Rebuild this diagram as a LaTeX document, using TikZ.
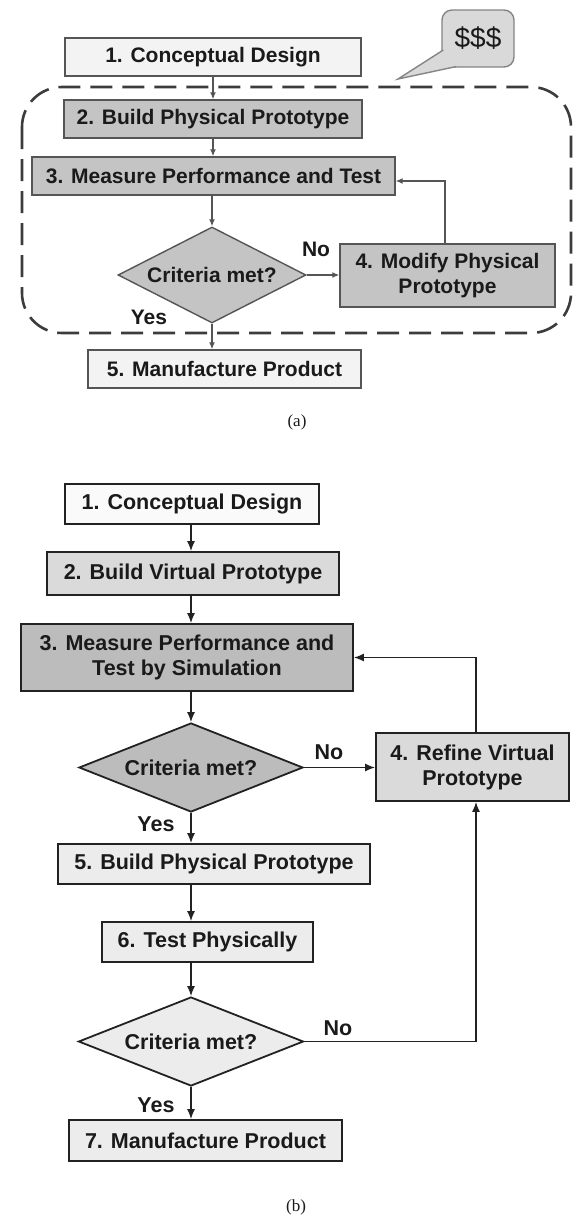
\documentclass[tikz,border=0pt]{standalone}
\usepackage{fontspec}
\setmainfont{Liberation Sans}
\newfontfamily\capfont{Liberation Serif}
\usetikzlibrary{shapes.geometric,arrows.meta,calc}
\definecolor{alight}{HTML}{F3F3F3}
\definecolor{amid}{HTML}{C4C4C4}
\definecolor{aline}{HTML}{555555}
\definecolor{bubfill}{HTML}{D9D9D9}
\definecolor{bubline}{HTML}{858585}
\definecolor{dashcol}{HTML}{3C3C3C}
\definecolor{bline}{HTML}{222222}
\definecolor{bwhite}{HTML}{FAFAFA}
\definecolor{bpale}{HTML}{ECECEC}
\definecolor{blight}{HTML}{DADADA}
\definecolor{bdark}{HTML}{BCBCBC}
\definecolor{txt}{HTML}{1A1A1A}
\tikzset{
  afont/.style={font=\fontsize{21}{25}\selectfont\bfseries, text=txt},
  bfont/.style={font=\fontsize{21.5}{25}\selectfont\bfseries, text=txt},
  abox/.style={draw=aline, line width=1.4pt, fill=#1, inner sep=0pt, align=center, afont},
  abox/.default=alight,
  bbox/.style={draw=bline, line width=1.8pt, fill=#1, inner sep=0pt, align=center, bfont},
  bbox/.default=bpale,
  adia/.style={shape=diamond, aspect=2, draw=aline, line width=1.4pt, fill=amid, inner sep=0pt, afont},
  bdia/.style={shape=diamond, aspect=2.5, draw=bline, line width=1.8pt, fill=#1, inner sep=0pt, bfont},
  aarrow/.style={draw=aline, line width=1.3pt, -{Latex[length=7pt,width=6pt]}},
  barrow/.style={draw=bline, line width=1.5pt, -{Latex[length=10pt,width=8pt]}},
  lbla/.style={afont, inner sep=0pt},
  lblb/.style={bfont, inner sep=0pt},
  caption/.style={font=\capfont\fontsize{17}{20}\selectfont, text=txt, inner sep=0pt}
}
\begin{document}
\begin{tikzpicture}[x=1pt,y=-1pt]
\useasboundingbox[fill=white] (0,0) rectangle (573,1216);

% ---------------- (a) ----------------
\coordinate (cola) at (213,0);
\draw[dashcol, line width=2.6pt, dash pattern=on 22pt off 10pt, rounded corners=40pt]
  (22,87) rectangle (571,333);

% speech bubble
\node[draw=bubline, line width=1.4pt, fill=bubfill, rounded corners=10pt,
      minimum width=72pt, minimum height=57pt, inner sep=0pt,
      font=\fontsize{28}{30}\selectfont, text=txt] (bub) at (478,38.5) {\$\$\$};
\fill[bubfill] (398,79) -- (443.5,50) -- (452,50) -- (458,60) -- (456,66.2) -- cycle;
\draw[bubline, line width=1.4pt] (443.3,50) -- (398,79) -- (456,66.6);

\node[abox, minimum width=296pt, minimum height=38pt] (a1) at (213,57) {1. Conceptual Design};
\node[abox=amid, minimum width=298pt, minimum height=38pt] (a2) at (213,119) {2. Build Physical Prototype};
\node[abox=amid, minimum width=363pt, minimum height=38pt] (a3) at (213.5,176) {3. Measure Performance and Test};
\node[adia, minimum width=188pt, minimum height=96pt] (ad) at (212,275) {Criteria met?};
\node[abox=amid, minimum width=215pt, minimum height=63pt] (a4) at (447.5,275.5) {4. Modify Physical\\Prototype};
\node[abox, minimum width=273pt, minimum height=38pt] (a5) at (224.5,369) {5. Manufacture Product};

\draw[aarrow] (a1.south -| cola) -- (a2.north -| cola);
\draw[aarrow] (a2.south -| cola) -- (a3.north -| cola);
\draw[aarrow] (a3.south -| ad.north) -- (ad.north);
\draw[aarrow] (ad.east) -- (ad.east -| a4.west);
\coordinate (loopa) at (445,0);
\draw[aarrow] (a4.north -| loopa) |- ($(a3.east)+(0,5)$);
\draw[aarrow] (ad.south) -- (ad.south |- a5.north);

\node[lbla] (ano) at (316,249) {No};
\node[lbla] (ayes) at (149,317) {Yes};
\node[caption] (capa) at (297,422) {(a)};

% ---------------- (b) ----------------
\coordinate (colb) at (191,0);
\coordinate (loopb) at (476,0);
\node[bbox=bwhite, minimum width=254pt, minimum height=40pt] (b1) at (192,504) {1. Conceptual Design};
\node[bbox=blight, minimum width=292pt, minimum height=43pt] (b2) at (193,573.5) {2. Build Virtual Prototype};
\node[bbox=bdark, minimum width=332pt, minimum height=67pt] (b3) at (187,657.5) {3. Measure Performance and\\Test by Simulation};
\node[bdia=bdark, minimum width=224pt, minimum height=89pt] (bd1) at (191,767.5) {Criteria met?};
\node[bbox=blight, minimum width=193pt, minimum height=68pt] (b4) at (472.5,767) {4. Refine Virtual\\Prototype};
\node[bbox, minimum width=312pt, minimum height=40pt] (b5) at (214,864) {5. Build Physical Prototype};
\node[bbox, minimum width=211pt, minimum height=40pt] (b6) at (207.5,942) {6. Test Physically};
\node[bdia=bpale, minimum width=225pt, minimum height=89pt] (bd2) at (191,1041.5) {Criteria met?};
\node[bbox, minimum width=273pt, minimum height=41pt] (b7) at (205.5,1140.5) {7. Manufacture Product};

\draw[barrow] (b1.south -| colb) -- (b2.north -| colb);
\draw[barrow] (b2.south -| colb) -- (b3.north -| colb);
\draw[barrow] (b3.south -| colb) -- (bd1.north);
\draw[barrow] (bd1.east) -- (bd1.east -| b4.west);
\draw[barrow] (b4.north -| loopb) |- (b3.east);
\draw[barrow] (bd1.south) -- (b5.north -| bd1.south);
\draw[barrow] (b5.south -| colb) -- (b6.north -| colb);
\draw[barrow] (b6.south -| colb) -- (bd2.north);
\draw[barrow] (bd2.east) -| (b4.south -| loopb);
\draw[barrow] (bd2.south) -- (b7.north -| bd2.south);

\node[lblb] (bno1) at (329,752) {No};
\node[lblb] (byes1) at (156,824) {Yes};
\node[lblb] (bno2) at (338,1028) {No};
\node[lblb] (byes2) at (156,1105) {Yes};
\node[caption] (capb) at (296,1207) {(b)};
\end{tikzpicture}
\end{document}
